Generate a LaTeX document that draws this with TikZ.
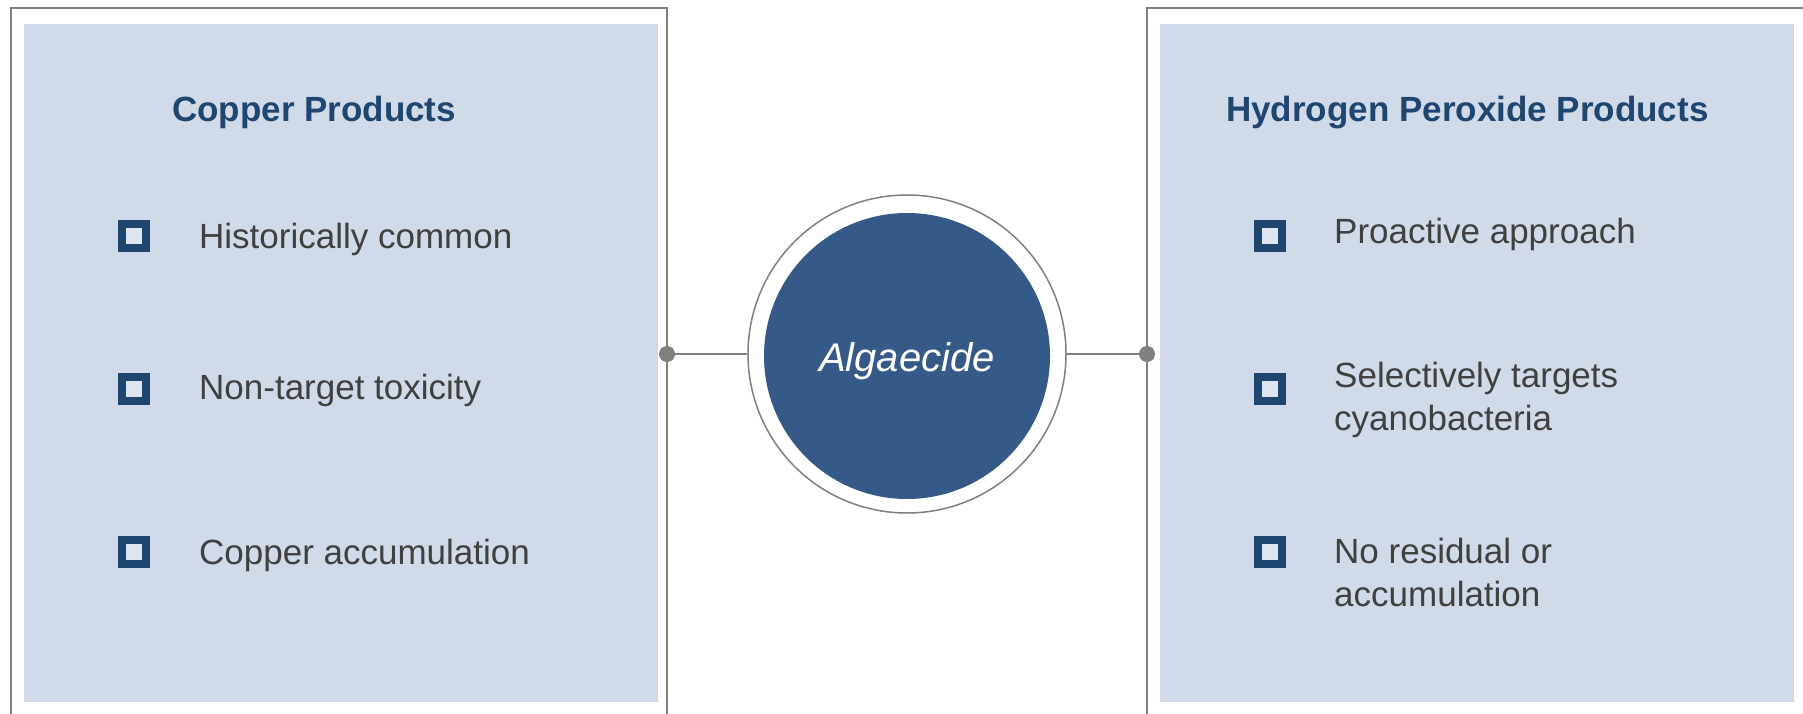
\documentclass[tikz,border=0pt]{standalone}
\usepackage{fontspec}
\setmainfont{Liberation Sans}

\definecolor{panelblue}{HTML}{D0DAE8}
\definecolor{darkblue}{HTML}{1F4670}
\definecolor{hubblue}{HTML}{365A88}
\definecolor{linegray}{HTML}{7F7F7F}
\definecolor{textgray}{HTML}{404040}
\definecolor{boxinner}{HTML}{DEE5EF}

\begin{document}
\begin{tikzpicture}[%
    x=1pt,
    y=-1pt,
    frame/.style={%
      draw=linegray,
      line width=1.5pt
    },
    link/.style={%
      draw=linegray,
      line width=2pt
    },
    panel/.style={%
      fill=panelblue
    },
    heading/.style={%
      anchor=base west,
      inner sep=0pt,
      text=darkblue,
      font=\fontsize{35}{43}\selectfont\bfseries
    },
    bullet/.style={%
      rectangle,
      minimum size=24pt,
      inner sep=0pt,
      line width=8pt,
      draw=darkblue,
      fill=boxinner
    },
    item/.style={%
      anchor=base west,
      inner sep=0pt,
      align=left,
      text=textgray,
      font=\fontsize{35}{43}\selectfont
    },
    joint/.style={%
      circle,
      minimum size=16pt,
      inner sep=0pt,
      fill=linegray
    },
    ring/.style={%
      circle,
      minimum size=318pt,
      inner sep=0pt,
      draw=linegray,
      line width=1.5pt
    },
    hubdisc/.style={%
      circle,
      minimum size=286pt,
      inner sep=0pt,
      fill=hubblue
    }
  ]
    \useasboundingbox (0,0) rectangle (1803,714);
    \clip (0,0) rectangle (1803,714);

    % outer frames, open at the bottom
    \draw[frame] (11,730) -- (11,8) -- (667,8) -- (667,730);
    \draw[frame] (1147,730) -- (1147,8) -- (1815,8);
    \fill[panel] (24,24) rectangle (658,702);
    \fill[panel] (1160,24) rectangle (1794,702);

    % left side
    \node[heading] (copper) at (172,122) {Copper Products};
    \node[bullet] (c1) at (134,236) {};
    \node[bullet] (c2) at (134,389) {};
    \node[bullet] (c3) at (134,552) {};
    \node[item] (ct1) at (199,248) {Historically common};
    \node[item] (ct2) at (199,399) {Non-target toxicity};
    \node[item] (ct3) at (199,564) {Copper accumulation};

    % right side (base of a two-line item is its last line)
    \node[heading] (peroxide) at (1226,122) {Hydrogen Peroxide Products};
    \node[bullet] (p1) at (1270,236) {};
    \node[bullet] (p2) at (1270,389) {};
    \node[bullet] (p3) at (1270,552) {};
    \node[item] (pt1) at (1334,243) {Proactive approach};
    \node[item] (pt2) at (1334,430) {Selectively targets\\cyanobacteria};
    \node[item] (pt3) at (1334,606) {No residual or\\accumulation};

    % hub
    \node[ring] (ring) at (907,354) {};
    \node[hubdisc] (hub) at (907,356) {};
    \node[anchor=base, text=white, font=\fontsize{40}{48}\selectfont\itshape]
      (hublabel) at (907,371) {Algaecide};

    \node[joint] (ljoint) at (667,354) {};
    \node[joint] (rjoint) at (1147,354) {};
    \path[link] (ljoint) edge (ring)
                (ring) edge (rjoint);
\end{tikzpicture}
\end{document}
